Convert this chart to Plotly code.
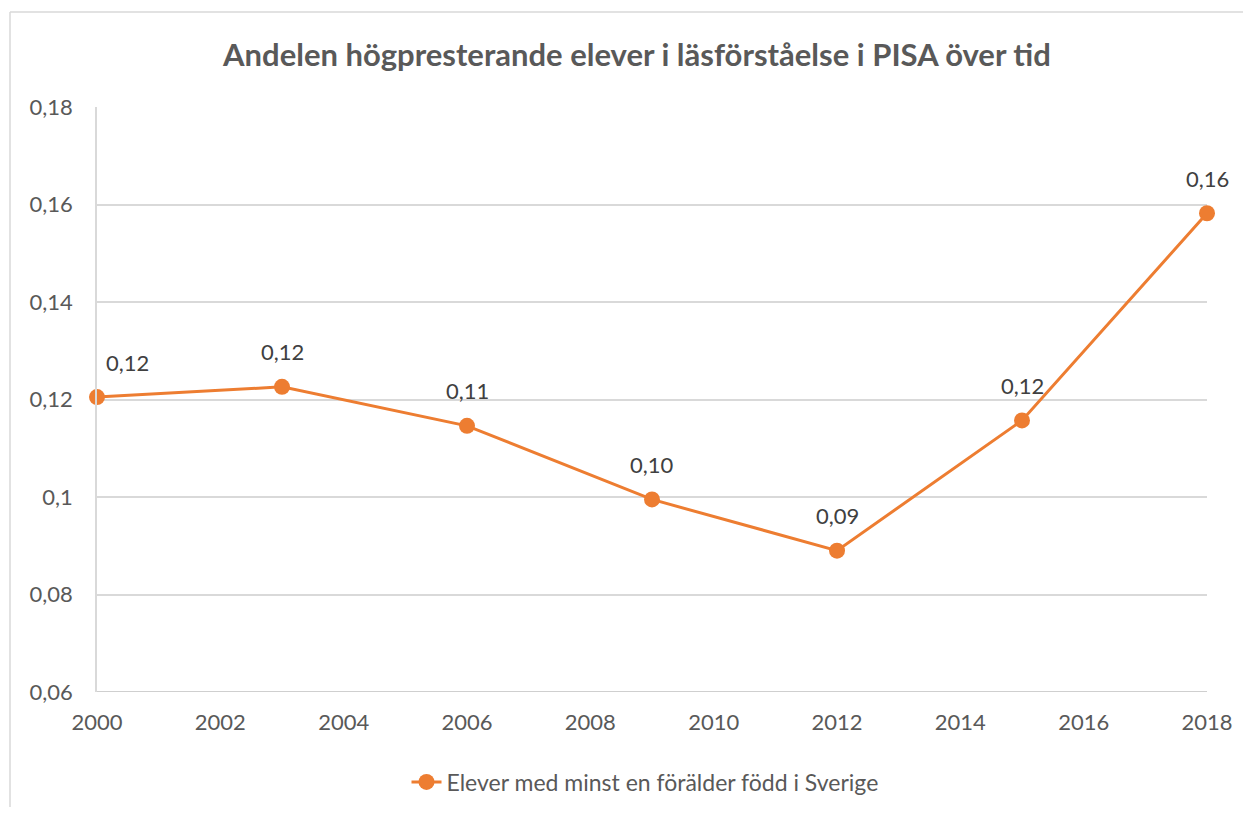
import plotly.graph_objects as go

years = [2000, 2003, 2006, 2009, 2012, 2015, 2018]
share = [0.1205, 0.1226, 0.1146, 0.0995, 0.0890, 0.1157, 0.1582]
series_name = "Elever med minst en förälder född i Sverige"
title_text = "Andelen högpresterande elever i läsförståelse i PISA över tid"
y_tickvals = [0.06, 0.08, 0.10, 0.12, 0.14, 0.16, 0.18]
y_ticktext = ["0,06", "0,08", "0,1", "0,12", "0,14", "0,16", "0,18"]
x_tickvals = [2000, 2002, 2004, 2006, 2008, 2010, 2012, 2014, 2016, 2018]

ORANGE = "#ED7D31"
GRID = "#D9D9D9"
TXT = "#595959"
FONT = "Lato, Open Sans, sans-serif"

# page has an 8px body margin; figure coordinates = page - 8
OFF = 8
W, H = 1235, 799
L, T = 97 - OFF, 107 - OFF
R = W - (1207 - OFF)
B = H - (692 - OFF)
pw, ph = W - L - R, H - T - B


def px_x(px):
    return (px - OFF - L) / pw


def px_y(py):
    return (H - B - (py - OFF)) / ph


fig = go.Figure()
fig.add_trace(go.Scatter(
    x=years, y=share, mode="lines+markers", name=series_name,
    line=dict(color=ORANGE, width=3),
    marker=dict(color=ORANGE, size=16),
    cliponaxis=False,
    hoverinfo="skip",
))

annotations = []
for i, (xv, yv) in enumerate(zip(years, share)):
    label = f"{yv:.2f}".replace(".", ",")
    annotations.append(dict(
        x=xv, y=yv, xref="x", yref="y", text=label, showarrow=False,
        yshift=35, xshift=30 if i == 0 else 0,
        font=dict(family=FONT, size=22, color="#404040"),
    ))

shapes = [
    dict(type="line", xref="paper", yref="paper",
         x0=px_x(10), x1=px_x(10), y0=px_y(12), y1=px_y(830),
         line=dict(color=GRID, width=1.5)),
    dict(type="line", xref="paper", yref="paper",
         x0=px_x(10), x1=px_x(1270), y0=px_y(12), y1=px_y(12),
         line=dict(color=GRID, width=1.5)),
]

fig.update_layout(
    width=W, height=H,
    margin=dict(l=L, r=R, t=T, b=B, autoexpand=False),
    paper_bgcolor="white", plot_bgcolor="white",
    font=dict(family=FONT, size=22, color=TXT),
    title=dict(text="<b>" + title_text + "</b>", x=(637 - OFF) / W, xanchor="center",
               y=1 - (55 - OFF) / H, yanchor="middle",
               font=dict(family=FONT, size=31, color=TXT)),
    xaxis=dict(range=[2000, 2018], tickvals=x_tickvals, showgrid=False,
               showline=False, zeroline=False, ticks="", ticklabelstandoff=15,
               tickfont=dict(family=FONT, size=22, color=TXT)),
    yaxis=dict(range=[0.06, 0.18], tickvals=y_tickvals, ticktext=y_ticktext,
               showgrid=True, gridcolor=GRID, gridwidth=1.5,
               showline=True, linecolor=GRID, linewidth=1.5,
               zeroline=False, ticks="", ticklabelstandoff=18,
               tickfont=dict(family=FONT, size=22, color=TXT)),
    showlegend=True,
    legend=dict(orientation="h", x=px_x(645), xanchor="center",
                y=px_y(782), yanchor="middle",
                font=dict(family=FONT, size=23, color=TXT)),
    annotations=annotations,
    shapes=shapes,
)
fig.add_hline(y=0.06, line=dict(color="#BFBFBF", width=1.5), layer="below")

fig.write_html("out.html")
